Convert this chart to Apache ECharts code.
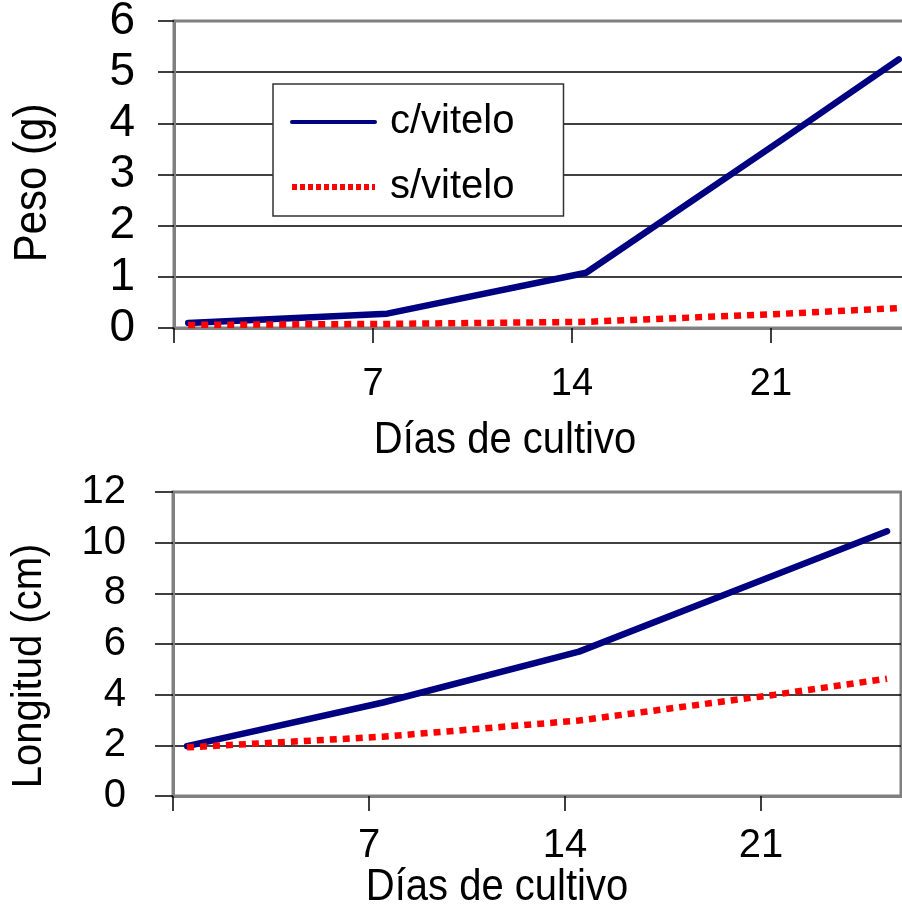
<!DOCTYPE html>
<html>
<head>
<meta charset="utf-8">
<title>Peso y longitud</title>
<script src="https://cdn.jsdelivr.net/npm/echarts@6/dist/echarts.min.js"></script>
<style>
  html, body { margin: 0; padding: 0; background: #ffffff; }
  #chart { width: 902px; height: 913px; }
</style>
</head>
<body>
<div id="chart"></div>
<script>
// Days of culture at which each sample was measured
const days = [0.5, 7.5, 14.5, 21.5, 25.5];
// Weight (g)
const pesoConVitelo = [0.10, 0.28, 1.08, 3.72, 5.25];
const pesoSinVitelo = [0.06, 0.08, 0.12, 0.28, 0.39];
// Length (cm)
const longConVitelo = [1.97, 3.69, 5.70, 8.72, 10.45];
const longSinVitelo = [1.92, 2.34, 2.98, 4.00, 4.63];
// Axis tick labels
const dayLabels = [7, 14, 21];
const dayTicks = [0, 7, 14, 21];
const seriesNames = ['c/vitelo', 's/vitelo'];

const FONT = 'Liberation Sans, Arial, Helvetica, sans-serif';
const GRAY = '#808080';
const NAVY = '#000080';
const RED = '#ff0000';

const pairs = (ys) => days.map((d, i) => [d, ys[i]]);

function xAxisFor(gridIndex, fontSize, margin) {
  return {
    type: 'value', gridIndex: gridIndex, min: 0, max: 26, interval: 7,
    axisLine: { show: true, onZero: false, lineStyle: { color: GRAY, width: 3 } },
    axisTick: { show: true, length: 15, customValues: dayTicks,
      lineStyle: { color: '#000', width: 1.5 } },
    axisLabel: { show: true, customValues: dayLabels, margin: margin,
      color: '#000', fontSize: fontSize, lineHeight: fontSize, fontFamily: FONT,
      formatter: (v) => dayLabels.indexOf(v) >= 0 ? String(v) : '' },
    splitLine: { show: false }
  };
}

function yAxisFor(gridIndex, max, interval, fontSize, margin, tickLen) {
  return {
    type: 'value', gridIndex: gridIndex, min: 0, max: max, interval: interval,
    axisLine: { show: true, lineStyle: { color: GRAY, width: 3 } },
    axisTick: { show: true, length: tickLen, lineStyle: { color: '#000', width: 1.5 } },
    axisLabel: { margin: margin, color: '#000', fontSize: fontSize,
      lineHeight: fontSize, fontFamily: FONT },
    splitLine: { show: true, showMinLine: false, showMaxLine: false,
      lineStyle: { color: '#000', width: 1.5 } }
  };
}

const solidLine = { color: NAVY, width: 6.5, cap: 'round', join: 'round' };
const dottedLine = { color: RED, width: 6.5, type: [7, 6], cap: 'butt' };
const noMarker = { color: 'rgba(0,0,0,0)', borderWidth: 0, borderColor: 'rgba(0,0,0,0)' };

const chart = echarts.init(document.getElementById('chart'), null, { renderer: 'canvas' });

chart.setOption({
  backgroundColor: '#ffffff',
  animation: false,
  textStyle: { fontFamily: FONT, color: '#000' },
  grid: [
    // the upper plot runs on past the right edge of the canvas
    { left: 174, top: 21, width: 739, height: 307, show: true,
      outerBoundsMode: 'none', containLabel: false,
      borderColor: GRAY, borderWidth: 3, backgroundColor: 'transparent' },
    { left: 173, top: 492, width: 728, height: 304, show: true,
      outerBoundsMode: 'none', containLabel: false,
      borderColor: GRAY, borderWidth: 3, backgroundColor: 'transparent' }
  ],
  xAxis: [xAxisFor(0, 38, 38), xAxisFor(1, 40, 30)],
  yAxis: [yAxisFor(0, 6, 1, 46, 39, 16), yAxisFor(1, 12, 2, 40, 47, 18)],
  legend: {
    orient: 'vertical', left: 273, top: 84,
    padding: [16, 49, 7, 16], itemGap: 21,
    itemWidth: 83, itemHeight: 20,
    backgroundColor: '#ffffff', borderColor: '#333333', borderWidth: 1.5,
    textStyle: { fontSize: 40, lineHeight: 44, color: '#000', fontFamily: FONT,
      padding: [0, 0, 0, 10] },
    selectedMode: false,
    data: [
      { name: seriesNames[0], itemStyle: noMarker,
        lineStyle: { width: 4, color: NAVY } },
      { name: seriesNames[1], itemStyle: noMarker,
        lineStyle: { width: 6, color: RED, type: [5, 3] } }
    ]
  },
  graphic: [
    { type: 'text', x: 33, y: 183, rotation: Math.PI / 2, scaleY: 1.08,
      style: { text: 'Peso (g)', fontSize: 42, fontFamily: FONT, fill: '#000',
        align: 'center', verticalAlign: 'middle' } },
    { type: 'text', x: 505, y: 441, scaleY: 1.1,
      style: { text: 'Días de cultivo', fontSize: 40, fontFamily: FONT, fill: '#000',
        align: 'center', verticalAlign: 'middle' } },
    { type: 'text', x: 29, y: 666, rotation: Math.PI / 2, scaleY: 1.08,
      style: { text: 'Longitud (cm)', fontSize: 40, fontFamily: FONT, fill: '#000',
        align: 'center', verticalAlign: 'middle' } },
    { type: 'text', x: 497, y: 888, scaleY: 1.1,
      style: { text: 'Días de cultivo', fontSize: 40, fontFamily: FONT, fill: '#000',
        align: 'center', verticalAlign: 'middle' } }
  ],
  series: [
    { name: seriesNames[0], type: 'line', xAxisIndex: 0, yAxisIndex: 0,
      data: pairs(pesoConVitelo), symbol: 'none', lineStyle: solidLine, z: 3 },
    { name: seriesNames[1], type: 'line', xAxisIndex: 0, yAxisIndex: 0,
      data: pairs(pesoSinVitelo), symbol: 'none', lineStyle: dottedLine, z: 4 },
    { name: seriesNames[0], type: 'line', xAxisIndex: 1, yAxisIndex: 1,
      data: pairs(longConVitelo), symbol: 'none', lineStyle: solidLine, z: 3 },
    { name: seriesNames[1], type: 'line', xAxisIndex: 1, yAxisIndex: 1,
      data: pairs(longSinVitelo), symbol: 'none', lineStyle: dottedLine, z: 4 }
  ]
});
</script>
</body>
</html>
